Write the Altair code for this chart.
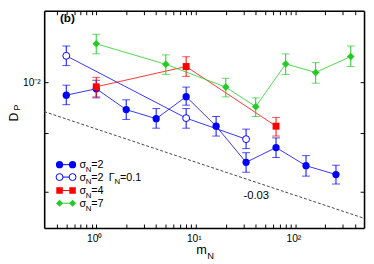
import altair as alt
import pandas as pd

# ---- data ----
s1_x = [0.5, 1, 2, 4, 8, 16, 32, 64, 128, 256]
s1_y = [0.00832, 0.00911, 0.00678, 0.00596, 0.00815, 0.00536, 0.00321, 0.00396, 0.00306, 0.00270]
s1_lo = [0.00727, 0.00801, 0.00590, 0.00521, 0.00722, 0.00466, 0.00279, 0.00344, 0.00264, 0.00236]
s1_hi = [0.00959, 0.01028, 0.00779, 0.00688, 0.00933, 0.00615, 0.00368, 0.00454, 0.00353, 0.00308]

s2_x = [0.5, 8, 32]
s2_y = [0.01454, 0.00601, 0.00446]
s2_lo = [0.01266, 0.00521, 0.00390]
s2_hi = [0.01671, 0.00688, 0.00514]

s3_x = [1, 8, 64]
s3_y = [0.00937, 0.01249, 0.00536]
s3_lo = [0.00812, 0.01087, 0.00466]
s3_hi = [0.01072, 0.01434, 0.00607]

s4_x = [1, 5, 20, 40, 80, 160, 360]
s4_y = [0.01725, 0.01289, 0.00933, 0.00707, 0.01296, 0.01149, 0.0144]
s4_lo = [0.01495, 0.01117, 0.00812, 0.00615, 0.01117, 0.00986, 0.01249]
s4_hi = [0.01973, 0.01474, 0.01057, 0.00801, 0.01495, 0.0132, 0.01671]

guide_x = [0.3, 490]
guide_y = [0.00659, 0.001452]

x_ticks = [0.4, 0.5, 0.6, 0.7, 0.8, 0.9, 1, 2, 3, 4, 5, 6, 7, 8, 9, 10,
           20, 30, 40, 50, 60, 70, 80, 90, 100, 200, 300, 400]
y_ticks = [0.01, 0.00486, 0.00211]

FONT = "Liberation Sans"
BLUE = "#0000ff"
RED = "#ff0000"
GREEN = "#22cc22"

xscale = alt.Scale(type="log", domain=[0.3, 490], nice=False)
yscale = alt.Scale(type="log", domain=[0.001266, 0.02753], nice=False)

xlab = ("datum.value == 1 ? '10\u2070' : datum.value == 10 ? '10\u00b9' : "
        "datum.value == 100 ? '10\u00b2' : ''")
ylab = "datum.value == 0.01 ? '10\u207b\u00b2' : ''"

common = dict(tickSize=alt.ExprRef("-4"), domain=True, domainColor="black", domainWidth=1.6,
              grid=False, title=None, tickColor="black", tickWidth=1,
              labelOverlap=False, labelFlush=False, labelFont=FONT,
              labelFontSize=10.5, labelColor="black")

x_axis = alt.Axis(values=x_ticks, labelExpr=xlab, labelPadding=10, labelOffset=-2, **common)
y_axis = alt.Axis(values=y_ticks, labelExpr=ylab, labelPadding=8, **common)


def mk(xs, ys, los, his):
    return pd.DataFrame({"x": xs, "y": ys, "lo": los, "hi": his})


def series(df, color, shape, filled, size):
    base = alt.Chart(df)
    line = base.mark_line(color=color, strokeWidth=0.8).encode(
        x=alt.X("x:Q", scale=xscale, axis=x_axis),
        y=alt.Y("y:Q", scale=yscale, axis=y_axis))
    err = base.mark_errorbar(color=color, ticks={"size": 8}, thickness=1).encode(
        x=alt.X("x:Q", scale=xscale),
        y=alt.Y("lo:Q", scale=yscale),
        y2="hi:Q")
    pts = base.mark_point(shape=shape, filled=filled, size=size, color=color,
                          fill=color if filled else "white", strokeWidth=1,
                          opacity=1).encode(
        x=alt.X("x:Q", scale=xscale),
        y=alt.Y("y:Q", scale=yscale))
    return [line, err, pts]


layers = []
layers += series(mk(s1_x, s1_y, s1_lo, s1_hi), BLUE, "circle", True, 55)
layers += series(mk(s2_x, s2_y, s2_lo, s2_hi), BLUE, "circle", False, 50)
layers += series(mk(s3_x, s3_y, s3_lo, s3_hi), RED, "square", True, 50)
layers += series(mk(s4_x, s4_y, s4_lo, s4_hi), GREEN, "diamond", True, 60)

guide = alt.Chart(pd.DataFrame({"x": guide_x, "y": guide_y})).mark_line(
    color="#444444", strokeWidth=1, strokeDash=[3, 2]).encode(
    x=alt.X("x:Q", scale=xscale), y=alt.Y("y:Q", scale=yscale))
layers.insert(0, guide)

notes = pd.DataFrame({"x": [40.5, 0.513], "y": [0.00198, 0.025],
                      "t": ["-0.03", "(b)"]})
note1 = alt.Chart(notes.iloc[[0]]).mark_text(font=FONT, fontSize=11.5, color="black").encode(
    x=alt.X("x:Q", scale=xscale), y=alt.Y("y:Q", scale=yscale), text="t:N")
note2 = alt.Chart(notes.iloc[[1]]).mark_text(font=FONT, fontSize=12, fontWeight="bold",
                                              color="black").encode(
    x=alt.X("x:Q", scale=xscale), y=alt.Y("y:Q", scale=yscale), text="t:N")
layers += [note1, note2]

# ---- legend (annotation, pixel positions relative to plot area) ----
one = pd.DataFrame({"a": [0]})
leg_rows = [
    (157.3, BLUE, "circle", True, 55, [("\u03c3", 36, False), ("N", 42.5, True), ("=2", 48, False)]),
    (170.0, BLUE, "circle", False, 50, [("\u03c3", 36, False), ("N", 42.5, True), ("=2", 48, False),
                                        ("\u0393", 66, False), ("N", 72, True), ("=0.1", 77.5, False)]),
    (183.7, RED, "square", True, 45, [("\u03c3", 36, False), ("N", 42.5, True), ("=4", 48, False)]),
    (196.7, GREEN, "diamond", True, 50, [("\u03c3", 36, False), ("N", 42.5, True), ("=7", 48, False)]),
]
for (ry, col, shp, fil, sz, parts) in leg_rows:
    layers.append(alt.Chart(one).mark_rule(color=col, strokeWidth=1).encode(
        x=alt.value(15.7), x2=alt.value(29), y=alt.value(ry)))
    for px in (15.7, 29):
        layers.append(alt.Chart(one).mark_point(shape=shp, filled=fil, size=sz, color=col,
                                                fill=col if fil else "white", strokeWidth=1,
                                                opacity=1).encode(
            x=alt.value(px), y=alt.value(ry)))
    for (txt, px, sub) in parts:
        layers.append(alt.Chart(one).mark_text(
            text=txt, font=FONT, fontSize=8 if sub else 11, align="left",
            baseline="alphabetic", color="black").encode(
            x=alt.value(px), y=alt.value(ry + (7.5 if sub else 3.8))))

# axis titles
layers.append(alt.Chart(one).mark_text(text="m", font=FONT, fontSize=13, align="left",
                                       baseline="alphabetic", color="black").encode(
    x=alt.value(155.5), y=alt.value(249)))
layers.append(alt.Chart(one).mark_text(text="N", font=FONT, fontSize=9.5, align="left",
                                       baseline="alphabetic", color="black").encode(
    x=alt.value(166.7), y=alt.value(253.7)))
layers.append(alt.Chart(one).mark_text(text="D", font=FONT, fontSize=12.5, angle=270,
                                       align="center", baseline="middle", color="black").encode(
    x=alt.value(-31), y=alt.value(108.7)))
layers.append(alt.Chart(one).mark_text(text="P", font=FONT, fontSize=9, angle=270,
                                       align="center", baseline="middle", color="black").encode(
    x=alt.value(-27.5), y=alt.value(99)))

main = alt.layer(*layers)

frame_common = dict(labels=False, title=None, tickSize=alt.ExprRef("-4"), domain=True,
                    domainColor="black", domainWidth=1.6, grid=False, tickColor="black",
                    tickWidth=1)
frame = alt.Chart(mk(s1_x, s1_y, s1_lo, s1_hi)).mark_point(opacity=0).encode(
    x=alt.X("x:Q", scale=xscale, axis=alt.Axis(orient="top", values=x_ticks, **frame_common)),
    y=alt.Y("y:Q", scale=yscale, axis=alt.Axis(orient="right", values=y_ticks, **frame_common)))

chart = alt.layer(main, frame).resolve_scale(x="independent", y="independent").properties(
    width=327, height=222,
    autosize=alt.AutoSizeParams(type="none"),
    padding={"left": 37, "top": 0, "right": 2, "bottom": 34},
).configure_view(stroke="black", strokeWidth=1.5).configure(background="white")

chart.save("out.html", embed_options={"renderer": "svg", "actions": False})
